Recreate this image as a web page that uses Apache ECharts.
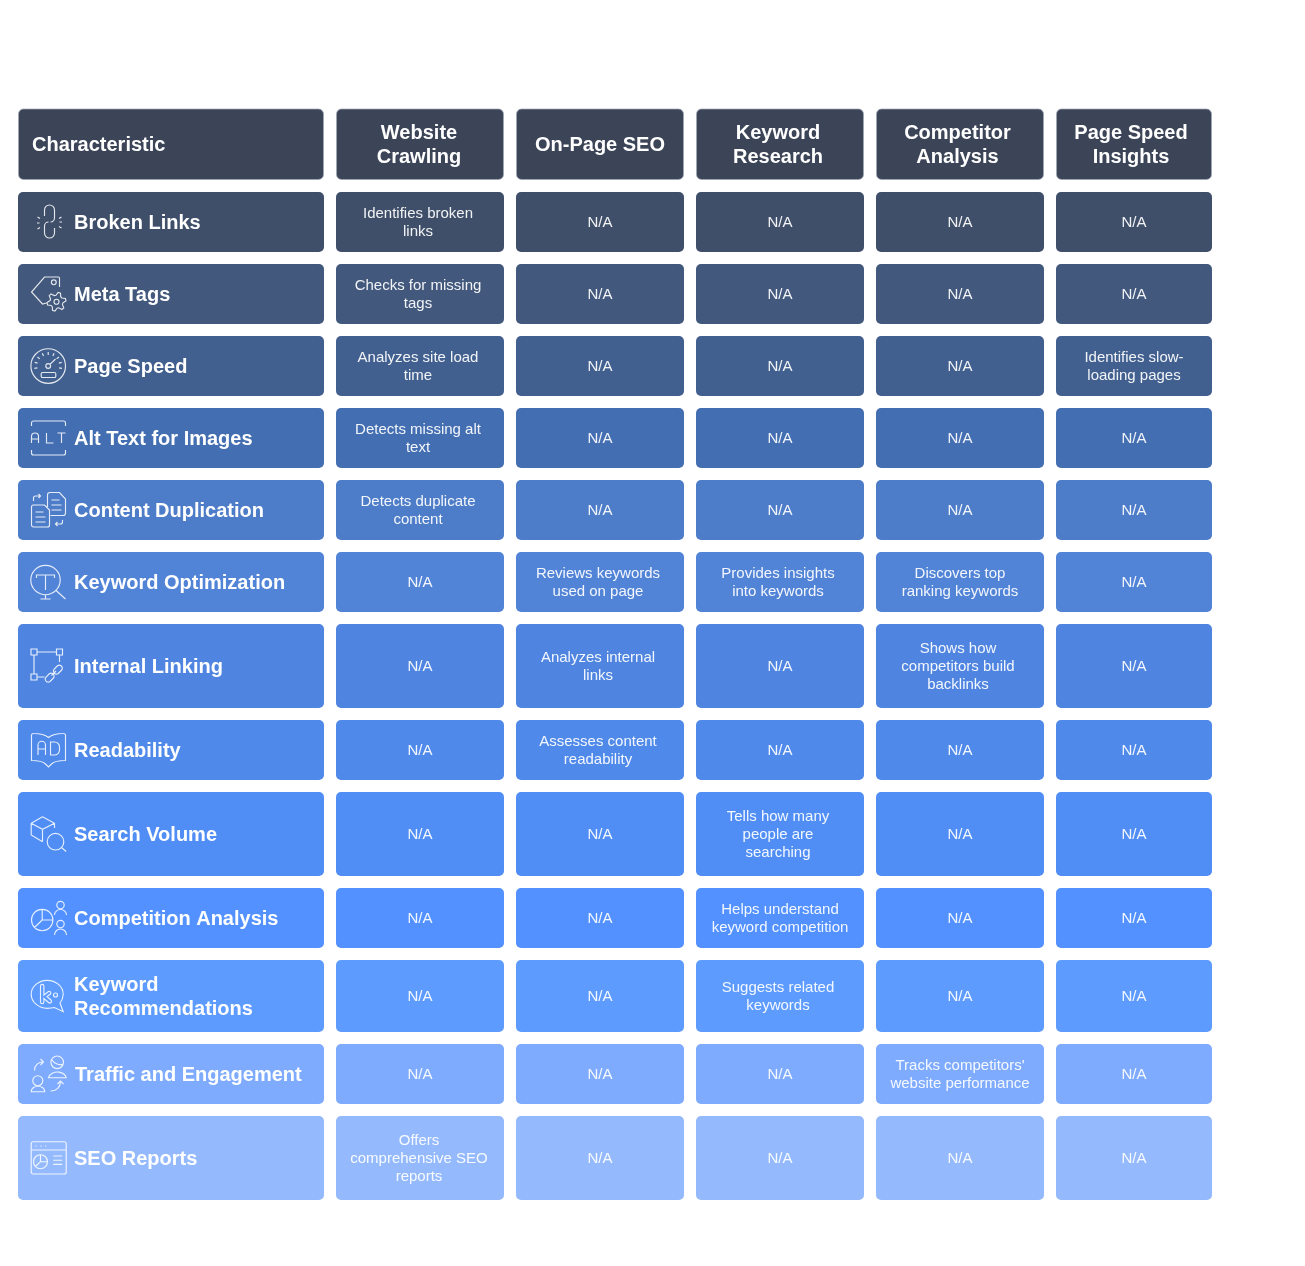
<!DOCTYPE html>
<html>
	<head>
		<meta charset="utf-8" />
		<title>SEO tools comparison</title>
		<style type="text/css">
			html, body {margin:0;padding:0;background:#fff;}
			#chart {width:1305px;height:1266px;}
		</style>
	</head>
	<body>
		<div id="chart"></div>
		<script src="https://cdn.jsdelivr.net/npm/echarts@6/dist/echarts.min.js"></script>
		<script type="text/javascript">
			/*********** data **********/
			const headerTitle = 'Characteristic';
			const tools = ['Website\nCrawling', 'On-Page SEO', 'Keyword\nResearch', 'Competitor\nAnalysis', 'Page Speed\nInsights'];
			const characteristics = ['Broken Links', 'Meta Tags', 'Page Speed', 'Alt Text for Images', 'Content Duplication',
				'Keyword Optimization', 'Internal Linking', 'Readability', 'Search Volume', 'Competition Analysis',
				'Keyword\nRecommendations', 'Traffic and Engagement', 'SEO Reports'];
			const websiteCrawling = ['Identifies broken\nlinks', 'Checks for missing\ntags', 'Analyzes site load\ntime', 'Detects missing alt\ntext',
				'Detects duplicate\ncontent', 'N/A', 'N/A', 'N/A', 'N/A', 'N/A', 'N/A', 'N/A', 'Offers\ncomprehensive SEO\nreports'];
			const onPageSeo = ['N/A', 'N/A', 'N/A', 'N/A', 'N/A', 'Reviews keywords\nused on page', 'Analyzes internal\nlinks',
				'Assesses content\nreadability', 'N/A', 'N/A', 'N/A', 'N/A', 'N/A'];
			const keywordResearch = ['N/A', 'N/A', 'N/A', 'N/A', 'N/A', 'Provides insights\ninto keywords', 'N/A', 'N/A',
				'Tells how many\npeople are\nsearching', 'Helps understand\nkeyword competition', 'Suggests related\nkeywords', 'N/A', 'N/A'];
			const competitorAnalysis = ['N/A', 'N/A', 'N/A', 'N/A', 'N/A', 'Discovers top\nranking keywords', 'Shows how\ncompetitors build\nbacklinks',
				'N/A', 'N/A', 'N/A', 'N/A', 'Tracks competitors\'\nwebsite performance', 'N/A'];
			const pageSpeedInsights = ['N/A', 'N/A', 'Identifies slow-\nloading pages', 'N/A', 'N/A', 'N/A', 'N/A', 'N/A', 'N/A', 'N/A', 'N/A', 'N/A', 'N/A'];
			const toolColumns = [websiteCrawling, onPageSeo, keywordResearch, competitorAnalysis, pageSpeedInsights];

			/*********** layout and colours **********/
			const colEdges = [[18, 324], [336, 504], [516, 684], [696, 864], [876, 1044], [1056, 1212]];
			const headerEdge = [108.5, 180];
			const rowEdges = [[192, 252], [264, 324], [336, 396], [408, 468], [480, 540], [552, 612], [624, 708],
				[720, 780], [792, 876], [888, 948], [960, 1032], [1044, 1104], [1116, 1200]];
			const rowColors = ['#3f4f69', '#42587c', '#42608f', '#436eb2', '#4d7cc8', '#5183d7', '#4f85e0',
				'#4f89ea', '#508ef5', '#5291ff', '#5d9bff', '#7eabfe', '#94bafd'];
			const headerColor = '#3c4558';
			const headerCenters = [419, 600, 778, 957.5, 1131];
			const keepCentered = ['Helps understand', 'Tracks competitors', 'Identifies slow', 'Discovers top'];
			const FONT = '"Liberation Sans", Arial, sans-serif';

			/*********** icons, drawn in a 36 box next to the row label **********/
			function gear(cx, cy, r1, r2, n) {
				let d = '';
				for (let i = 0; i < n * 4; i++) {
					const a = (i / (n * 4)) * Math.PI * 2 - 0.35;
					const r = (i % 4 < 2) ? r1 : r2;
					d += (i ? 'L' : 'M') + (cx + r * Math.cos(a)).toFixed(2) + ' ' + (cy + r * Math.sin(a)).toFixed(2);
				}
				return d + 'Z';
			}
			function circle(cx, cy, r) {
				return 'M' + (cx - r) + ' ' + cy + 'A' + r + ' ' + r + ' 0 1 1 ' + (cx + r) + ' ' + cy + 'A' + r + ' ' + r + ' 0 1 1 ' + (cx - r) + ' ' + cy + 'Z';
			}
			function dialTicks(cx, cy, r1, r2) {
				let d = '';
				for (let a = 170; a <= 370; a += 25) {
					const t = a * Math.PI / 180;
					d += 'M' + (cx + r1 * Math.cos(t)).toFixed(2) + ' ' + (cy + r1 * Math.sin(t)).toFixed(2)
						+ 'L' + (cx + r2 * Math.cos(t)).toFixed(2) + ' ' + (cy + r2 * Math.sin(t)).toFixed(2);
				}
				return d;
			}
			const icons = [
				// broken links
				'M14 12V6A5 5 0 0 1 24 6V14A4 4 0 0 1 20 18M24 24V29A5 5 0 0 1 14 29V22A4 4 0 0 1 18 18'
					+ 'M7 13L9.5 14.5M6.5 19H9M7 25L9.5 23.5M31 13L28.5 14.5M31.5 18H29M31 24L28.5 22.5',
				// meta tags
				'M16 27L12 28L1 16L14 1H28A1 1 0 0 1 29 2V11' + circle(23.3, 6.3, 2.4) + gear(26, 25.7, 9.5, 6.5, 6) + circle(26, 25.7, 2.5),
				// page speed
				circle(17.7, 18, 17.3) + circle(17.7, 18, 2.4) + 'M19.5 16.3L25 11' + dialTicks(17.7, 18, 11, 14)
					+ 'M12 24.5H24A1.3 1.3 0 0 1 25.3 25.8V28.2A1.3 1.3 0 0 1 24 29.5H12A1.3 1.3 0 0 1 10.7 28.2V25.8A1.3 1.3 0 0 1 12 24.5Z',
				// alt text
				'M1 6V3A2 2 0 0 1 3 1H33A2 2 0 0 1 35 3V6M1 30V33A2 2 0 0 0 3 35H33A2 2 0 0 0 35 33V30'
					+ 'M1 23V16.5A3.5 3.5 0 0 1 8 16.5V23M1 19H8M16 13V23H23M27 13H35M31 13V23',
				// content duplication
				'M3 13H14L19 18V33A2 2 0 0 1 17 35H3A2 2 0 0 1 1 33V15A2 2 0 0 1 3 13ZM5 20H13M5 25H15M5 30H15'
					+ 'M17 15V3A2.5 2.5 0 0 1 19.5 .5H29L35 7V21A2.5 2.5 0 0 1 32.5 23.5H20M21 8H29M21 13H31M21 18H31'
					+ 'M3 9V6A2 2 0 0 1 5 4H10M8 2L10 4L8 6M32 28V30A2 2 0 0 1 30 32H25M27 30L25 32L27 34',
				// keyword optimization
				circle(15, 16, 14.7) + 'M6 14V11H24V14M15 11V26M15 31V35M10 35H20M25 26L35 35',
				// internal linking
				'M.5 1H6.5V7H.5ZM26 1H32V7H26ZM.5 26H6.5V32H.5ZM6.5 4H26M3.5 7V26M29 7V14M6.5 29H14'
					+ 'M19.5 33.5L23 30A3 3 0 0 0 18.8 25.8L15.3 29.3A3 3 0 0 0 19.5 33.5Z'
					+ 'M27.7 25.5L31.2 22A3 3 0 0 0 27 17.8L23.5 21.3A3 3 0 0 0 27.7 25.5ZM21 27.5L25.5 23',
				// readability
				'M1 3A2 2 0 0 1 3 1.5C10 1.5 15 3 18 5.5C21 3 26 1.5 33 1.5A2 2 0 0 1 35 3V28.5C28 28.5 23 30 21 32L18 35L15 32C13 30 8 28.5 1 28.5Z'
					+ 'M7.5 23V13A3.7 3.7 0 0 1 15 13V23M7.5 17H15M20 10H24A5 5 0 0 1 29 15V18A5 5 0 0 1 24 23H20Z',
				// search volume
				'M12 .7L24 7.3V12M12 .7L.7 7.3V19L12 25.7M.7 7.3L12 13.3L24 7.3M12 13.3V25.7' + circle(25, 25.7, 8.3) + 'M31 31.5L35.7 35.5',
				// competition analysis
				circle(11.7, 20, 10.7) + 'M11.7 9.3V20H22.4M11.7 20L4 27.5' + circle(30, 5, 3.7) + 'M24 15A6 5.5 0 0 1 36 15' + circle(30, 24, 3.7) + 'M24 35A6 6 0 0 1 36 35',
				// keyword recommendations
				'M24 29.5C22 30 19 30.3 16.7 30.3C8 30.3 .7 24 .7 16.3C.7 8.6 8 2.3 16.7 2.3C25.5 2.3 32.7 8.6 32.7 16.3C32.7 19.5 31.5 22.5 29.5 25L32.7 33.7Z'
					+ 'M10 8A1.7 1.7 0 0 1 13.4 8V17L18 13.5A1.7 1.7 0 0 1 20 16L16.5 18.5L20.5 22A1.7 1.7 0 0 1 18 24.5L13.4 20.5V24A1.7 1.7 0 0 1 10 24Z'
					+ circle(25, 17, 2),
				// traffic and engagement
				circle(26.7, 6.3, 6.3) + 'M18 21.7A9 7 0 0 1 35.7 21.7ZM21 3.5C24 8 29 9.5 33 8' + circle(7.3, 24.7, 5) + 'M.7 35.7A6.8 5.5 0 0 1 14.3 35.7Z'
					+ 'M4 14.5C4 9 8 6 13 6M10 3L13 6L10 9M20 35C26 35 30 31 30 25.5M27 28L30 25L33 28',
				// seo reports
				'M2.7 1.7H33.7A2 2 0 0 1 35.7 3.7V32A2 2 0 0 1 33.7 34H2.7A2 2 0 0 1 .7 32V3.7A2 2 0 0 1 2.7 1.7ZM.7 10H35.7'
					+ 'M5 6H6.2M10 6H11.2M14.5 6H15.7' + circle(10, 21.7, 7) + 'M10 14.7V21.7H17M10 21.7L5 26.5M22.7 16H31.7M22.7 20.2H31.7M22.7 24.4H31.7'
			];

			/*********** one data item per table cell: [column, row], row -1 is the header **********/
			const cellData = [];
			for (let r = -1; r < characteristics.length; r++) {
				for (let c = 0; c < colEdges.length; c++) {
					cellData.push([c, r]);
				}
			}

			function cellText(col, row) {
				if (row < 0) {
					return col === 0 ? headerTitle : tools[col - 1];
				}
				return col === 0 ? characteristics[row] : toolColumns[col - 1][row];
			}

			function textShift(text) {
				if (text.indexOf('\n') < 0 || keepCentered.some(k => text.indexOf(k) === 0)) {
					return 0;
				}
				return text.indexOf('Offers') === 0 ? -1 : -2;
			}

			function renderCell(params, api) {
				const col = api.value(0), row = api.value(1);
				const xe = colEdges[col], ye = row < 0 ? headerEdge : rowEdges[row];
				const tl = api.coord([xe[0], ye[0]]);
				const br = api.coord([xe[1], ye[1]]);
				const midY = (tl[1] + br[1]) / 2;
				const text = cellText(col, row);
				const inset = row < 0 ? 0.5 : 0;
				const children = [{
					type: 'rect',
					shape: {x: tl[0] + inset, y: tl[1] + inset, width: br[0] - tl[0] - inset * 2, height: br[1] - tl[1] - inset * 2, r: 5},
					style: row < 0
						? {fill: headerColor, stroke: 'rgba(160,168,180,0.75)', lineWidth: 1}
						: {fill: rowColors[row]}
				}];
				const big = row < 0 || col === 0;
				let x = (tl[0] + br[0]) / 2 + textShift(text);
				if (row < 0 && col > 0) {
					x = api.coord([headerCenters[col - 1], 0])[0];
				}
				let align = 'center';
				if (col === 0) {
					align = 'left';
					x = row < 0 ? tl[0] + 14 : tl[0] + 56;
					if (text.indexOf('Traffic') === 0) {
						x += 1;
					}
				}
				children.push({
					type: 'text',
					style: {
						text: text, x: x, y: midY + (big ? 1 : 0.5),
						align: align, verticalAlign: 'middle',
						fill: big ? '#ffffff' : 'rgba(255,255,255,0.93)',
						fontFamily: FONT,
						fontSize: big ? 20 : 15,
						fontWeight: big ? 'bold' : 'normal',
						lineHeight: big ? 24 : 18
					}
				});
				if (col === 0 && row >= 0) {
					children.push({
						type: 'path',
						x: tl[0] + 12.5,
						y: midY - 18,
						shape: {pathData: icons[row]},
						style: {fill: 'none', stroke: 'rgba(255,255,255,0.85)', lineWidth: 1.15}
					});
				}
				return {type: 'group', children: children};
			}

			/*********** chart **********/
			const chart = echarts.init(document.getElementById('chart'));
			chart.setOption({
				animation: false,
				backgroundColor: '#ffffff',
				grid: {left: 0, right: 0, top: 0, bottom: 0},
				xAxis: {type: 'value', min: 0, max: 1305, show: false},
				yAxis: {type: 'value', min: 0, max: 1266, inverse: true, show: false},
				tooltip: {show: false},
				series: [{
					type: 'custom',
					coordinateSystem: 'cartesian2d',
					clip: false,
					silent: true,
					renderItem: renderCell,
					data: cellData
				}]
			});
		</script>
	</body>
</html>
